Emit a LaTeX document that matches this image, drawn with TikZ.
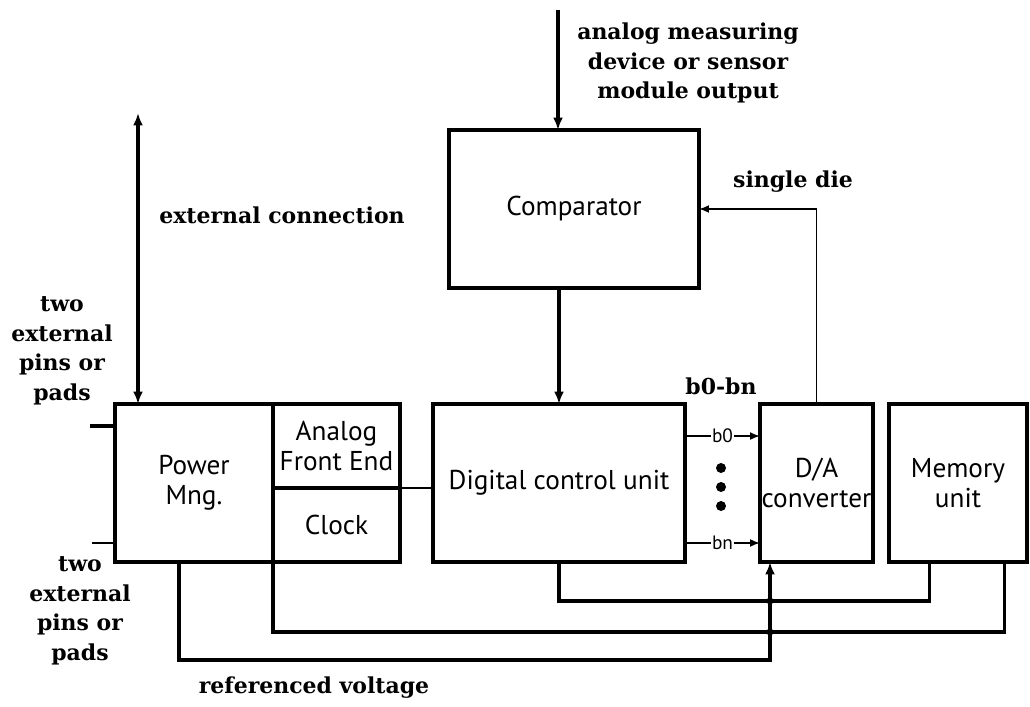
\documentclass[tikz,border=0pt]{standalone}
\usepackage{fontspec}
\setmainfont{DejaVu Serif}
\setsansfont{PT Sans}
\usetikzlibrary{arrows.meta, positioning}

\begin{document}
\begin{tikzpicture}[
  x=0.02cm, y=-0.02cm,
  blk/.style={draw, line width=2pt, outer sep=0pt, align=center, inner sep=2pt,
              font=\sffamily\fontsize{15.5}{17}\selectfont},
  lbl/.style={font=\bfseries\fontsize{12.5}{16.8}\selectfont, align=center, inner sep=1pt},
  bit/.style={font=\sffamily\fontsize{11}{12}\selectfont, fill=white, inner sep=0.5pt},
  fl/.style={-{Latex[length=2.5mm, width=2mm]}, line width=2pt},
  dfl/.style={{Latex[length=2.5mm, width=2mm]}-{Latex[length=2.5mm, width=2mm]}, line width=2pt},
  sl/.style={-{Latex[length=2mm, width=1.6mm]}, line width=1pt},
  wire/.style={line width=2pt},
  thinw/.style={line width=1pt}
]
\useasboundingbox (0,0) rectangle (1030,706);

% blocks
\node[blk, minimum width=5cm, minimum height=3.16cm] (comp) at (574,209) {Comparator};
\node[blk, minimum width=3.16cm, minimum height=3.16cm] (pwr) at (194,483) {Power\\Mng.};
\node[blk, anchor=north west, minimum width=2.54cm, minimum height=1.68cm] (afe) at (pwr.north east) {Analog\\Front End};
\node[blk, below=0pt of afe, minimum width=2.54cm, minimum height=1.48cm] (clk) {Clock};
\node[blk, minimum width=5.04cm, minimum height=3.16cm] (dcu) at (559,483) {Digital control unit};
\node[blk, minimum width=2.26cm, minimum height=3.16cm, inner sep=0pt] (da) at (816.5,483) {D/A\\converter};
\node[blk, minimum width=2.76cm, minimum height=3.16cm] (mem) at (958,483) {Memory\\unit};

% labels
\node[lbl] (lin) at (688,63) {analog measuring\\device or sensor\\module output};
\node[lbl] (ldie) at (793,182) {single die};
\node[lbl] (lext) at (282,215) {external connection};
\node[lbl] (lpin1) at (62,351) {two\\external\\pins or\\pads};
\node[lbl] (lpin2) at (80,611) {two\\external\\pins or\\pads};
\node[lbl] (lbits) at (721,386) {b0-bn};
\node[lbl] (lref) at (314,688) {referenced voltage};

% coordinates
\coordinate (in) at (558,10);
\coordinate (ext) at (138,113);
\coordinate (p1) at (90,426);
\coordinate (p2) at (92,543);
\coordinate (bus1) at (0,601);
\coordinate (bus2) at (0,632);
\coordinate (bus3) at (0,660);
\coordinate (m1) at ([xshift=-0.57cm]mem.south);
\coordinate (m2) at ([xshift=0.93cm]mem.south);
\coordinate (d1) at ([xshift=-0.93cm]da.south);
\coordinate (pv) at ([xshift=-0.3cm]pwr.south);

% connectors
\draw[fl] (in) -- (in |- comp.north);
\draw[fl] (dcu.north |- comp.south) -- (dcu.north);
\draw[sl] (da.north) |- (comp.east);
\draw[dfl] (ext) -- (ext |- pwr.north);
\draw[wire] (p1) -- (p1 -| pwr.west);
\draw[thinw] (p2) -- (p2 -| pwr.west);
\draw[thinw] (afe.south east) -- (afe.south east -| dcu.west);
\draw[sl] ([yshift=0.94cm]dcu.east) -- node[bit] {b0} ([yshift=0.94cm]da.west);
\draw[sl] ([yshift=-1.2cm]dcu.east) -- node[bit] {bn} ([yshift=-1.2cm]da.west);
\foreach \y in {468,487,506} \fill (721,\y) circle (0.1cm);

% buses
\draw[wire] (dcu.south) |- (m1 |- bus1) -- (m1);
\draw[wire] (clk.south west) |- (m2 |- bus2) -- (m2);
\draw[fl] (pv) |- (d1 |- bus3) -- (d1);
\fill (d1 |- bus1) circle (0.07cm);
\fill (d1 |- bus2) circle (0.07cm);
\end{tikzpicture}
\end{document}
